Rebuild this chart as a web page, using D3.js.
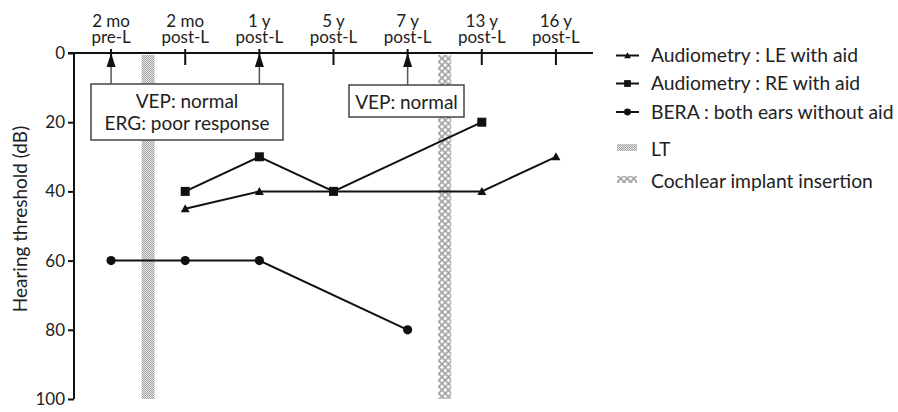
<!DOCTYPE html>
<html>
<head>
<meta charset="utf-8">
<script src="https://cdn.jsdelivr.net/npm/d3@7"></script>
<style>
  body { margin: 0; background: #fff; }
  text { font-family: Lato, "Open Sans", sans-serif; fill: #222; }
</style>
</head>
<body>
<div id="chart"></div>
<script>
// time points (two-line tick labels)
var tickTop = ["2 mo", "2 mo", "1 y", "5 y", "7 y", "13 y", "16 y"];
var tickBottom = ["pre-L", "post-L", "post-L", "post-L", "post-L", "post-L", "post-L"];

// hearing thresholds (dB), null = not measured
var leWithAid = [null, 45, 40, 40, null, 40, 30];
var reWithAid = [null, 40, 30, 40, null, 20, null];
var beraNoAid = [60, 60, 60, null, 80, null, null];

// events between time points (index position)
var ltAt = 0.5;
var ciAt = 4.5;

// eye exams (arrows at these time points)
var examAt = [0, 2, 4];
var examNotes = [
    { from: 0, to: 2, lines: ["VEP: normal", "ERG: poor response"] },
    { from: 4, to: 4, lines: ["VEP: normal"] }
];

var yTicks = [0, 20, 40, 60, 80, 100];

var legendNames = ["Audiometry : LE with aid", "Audiometry : RE with aid",
    "BERA : both ears without aid", "LT", "Cochlear implant insertion"];

// set the dimensions
var width = 898, height = 412;

var svg = d3.select("#chart").append("svg")
    .attr("width", width)
    .attr("height", height);

var defs = svg.append("defs");

// fine stipple for LT
var lt = defs.append("pattern")
    .attr("id", "ltPat")
    .attr("patternUnits", "userSpaceOnUse")
    .attr("width", 2).attr("height", 2);
lt.append("rect").attr("width", 2).attr("height", 2).attr("fill", "#e2e2e2");
lt.append("rect").attr("width", 1).attr("height", 1).attr("fill", "#a6a6a6");
lt.append("rect").attr("x", 1).attr("y", 1).attr("width", 1).attr("height", 1).attr("fill", "#a6a6a6");

// crosses for cochlear implant
var ci = defs.append("pattern")
    .attr("id", "ciPat")
    .attr("patternUnits", "userSpaceOnUse")
    .attr("width", 6.5).attr("height", 6.5);
ci.append("path")
    .attr("d", "M0,0L6.5,6.5M6.5,0L0,6.5")
    .attr("stroke", "#a0a0a0")
    .attr("stroke-width", 1.6)
    .attr("fill", "none");

var x = d3.scaleBand()
    .domain(d3.range(tickTop.length))
    .range([74, 593]);

var cx = function (i) {
    return x.range()[0] + (i + 0.5) * x.step();
};

var y = d3.scaleLinear()
    .domain([0, 100])
    .range([53, 399]);

// event bars
svg.append("rect")
    .attr("x", cx(ltAt) - 6.5)
    .attr("y", y(0) + 2)
    .attr("width", 13)
    .attr("height", y(100) - y(0) - 2)
    .attr("fill", "url(#ltPat)");

svg.append("rect")
    .attr("x", cx(ciAt) - 6.5)
    .attr("y", y(0) + 2)
    .attr("width", 13)
    .attr("height", y(100) - y(0) - 2)
    .attr("fill", "url(#ciPat)");

// Y axis
var yAxis = svg.append("g")
    .attr("transform", "translate(74,0)")
    .call(d3.axisLeft(y).tickValues(yTicks).tickSize(6).tickPadding(3));
yAxis.select(".domain").attr("stroke", "#111").attr("stroke-width", 2)
    .attr("d", "M0," + y(0) + "V" + y(100));
yAxis.selectAll(".tick line").attr("stroke", "#111").attr("stroke-width", 2);
yAxis.selectAll(".tick text")
    .style("font-family", "Lato")
    .style("font-size", "17px")
    .attr("fill", "#222");

svg.append("text")
    .attr("transform", "rotate(-90)")
    .attr("x", -219)
    .attr("y", 27)
    .style("text-anchor", "middle")
    .style("font-size", "19px")
    .text("Hearing threshold (dB)");

// top time axis
svg.append("line")
    .attr("x1", 68).attr("x2", 593)
    .attr("y1", y(0)).attr("y2", y(0))
    .attr("stroke", "#111").attr("stroke-width", 2);

svg.selectAll(".ttick")
    .data(tickTop)
    .enter()
    .append("line")
    .attr("class", "ttick")
    .attr("x1", function (d, i) { return cx(i); })
    .attr("x2", function (d, i) { return cx(i); })
    .attr("y1", y(0) - 4)
    .attr("y2", y(0) + 12)
    .attr("stroke", "#111").attr("stroke-width", 2);

svg.selectAll(".tlab1")
    .data(tickTop)
    .enter()
    .append("text")
    .attr("class", "tlab1")
    .attr("x", function (d, i) { return cx(i); })
    .attr("y", 27)
    .style("text-anchor", "middle")
    .style("font-size", "17px")
    .text(function (d) { return d; });

svg.selectAll(".tlab2")
    .data(tickBottom)
    .enter()
    .append("text")
    .attr("class", "tlab2")
    .attr("x", function (d, i) { return cx(i); })
    .attr("y", 43)
    .style("text-anchor", "middle")
    .style("font-size", "17px")
    .text(function (d) { return d; });

// exam arrows
examAt.forEach(function (i) {
    svg.append("line")
        .attr("x1", cx(i)).attr("x2", cx(i))
        .attr("y1", y(0) + 12).attr("y2", 85)
        .attr("stroke", "#555").attr("stroke-width", 1.5);
    svg.append("path")
        .attr("d", "M" + cx(i) + "," + y(0) + "l4.5,14h-9z")
        .attr("fill", "#111");
});

// note boxes
var boxLayout = [{ x0: 91, x1: 283, y0: 84, y1: 140, base: 108 },
    { x0: 349, x1: 464, y0: 85, y1: 117, base: 109 }];
examNotes.forEach(function (n, k) {
    var b = boxLayout[k];
    svg.append("rect")
        .attr("x", b.x0).attr("y", b.y0)
        .attr("width", b.x1 - b.x0).attr("height", b.y1 - b.y0)
        .attr("fill", "#fff")
        .attr("stroke", "#444").attr("stroke-width", 1.5);
    n.lines.forEach(function (t, j) {
        svg.append("text")
            .attr("x", (b.x0 + b.x1) / 2)
            .attr("y", b.base + j * 22)
            .style("text-anchor", "middle")
            .style("font-size", "19px")
            .text(t);
    });
});

// series
var series = [
    { values: leWithAid, shape: "tri" },
    { values: reWithAid, shape: "sq" },
    { values: beraNoAid, shape: "dot" }
];

var line = d3.line()
    .x(function (d) { return cx(d.i); })
    .y(function (d) { return y(d.v); });

function marker(g, shape, px, py, s) {
    if (shape === "tri") {
        g.append("path")
            .attr("d", "M" + px + "," + (py - 4.5 * s) + "l" + (4.5 * s) + "," + (8 * s) + "h" + (-9 * s) + "z")
            .attr("fill", "#111");
    } else if (shape === "sq") {
        g.append("rect")
            .attr("x", px - 4.5 * s).attr("y", py - 4.5 * s)
            .attr("width", 9 * s).attr("height", 9 * s)
            .attr("fill", "#111");
    } else {
        g.append("circle")
            .attr("cx", px).attr("cy", py).attr("r", 4.6 * s)
            .attr("fill", "#111");
    }
}

series.forEach(function (s) {
    var pts = s.values
        .map(function (v, i) { return { i: i, v: v }; })
        .filter(function (d) { return d.v !== null; });
    svg.append("path")
        .datum(pts)
        .attr("d", line)
        .attr("fill", "none")
        .attr("stroke", "#111")
        .attr("stroke-width", 2);
    var g = svg.append("g");
    pts.forEach(function (d) {
        marker(g, s.shape, cx(d.i), y(d.v), 1);
    });
});

// legend
var legendY = [55.5, 83.5, 112, 149, 181];
var lg = svg.append("g");
legendNames.forEach(function (name, i) {
    var ly = legendY[i];
    if (i < 3) {
        lg.append("line")
            .attr("x1", 616).attr("x2", 639)
            .attr("y1", ly).attr("y2", ly)
            .attr("stroke", "#111").attr("stroke-width", 2);
        marker(lg, series[i].shape, 627.5, ly, 0.75);
    } else {
        lg.append("rect")
            .attr("x", 617).attr("y", ly - 5)
            .attr("width", 20).attr("height", 7)
            .attr("fill", i === 3 ? "url(#ltPat)" : "url(#ciPat)");
    }
    lg.append("text")
        .attr("x", 651)
        .attr("y", ly)
        .attr("dy", "0.35em")
        .style("font-size", "19.3px")
        .text(name);
});
</script>
</body>
</html>
